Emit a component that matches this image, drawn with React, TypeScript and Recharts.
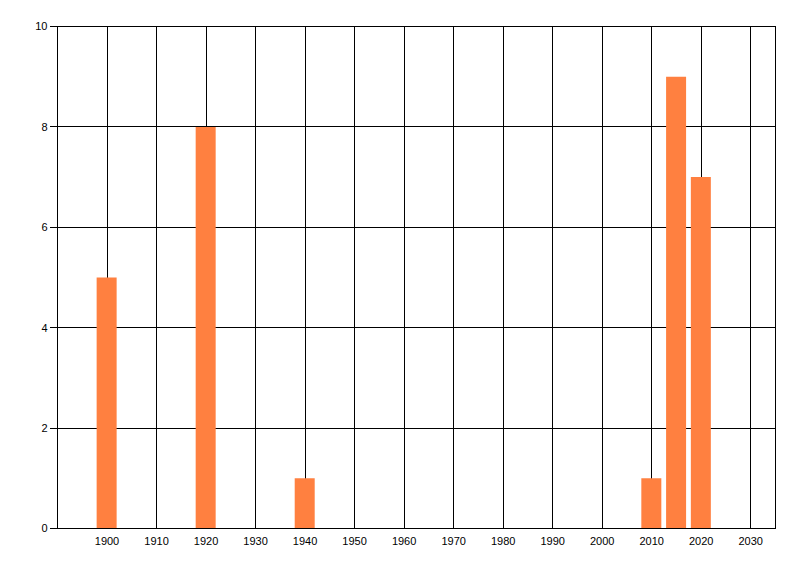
import React from 'react'
import { BarChart, Bar, XAxis, YAxis, CartesianGrid } from 'recharts'

const years = [1900, 1920, 1940, 2010, 2015, 2020]
const counts = [5, 8, 1, 1, 9, 7]
const xTicks = [1900, 1910, 1920, 1930, 1940, 1950, 1960, 1970, 1980, 1990, 2000, 2010, 2020, 2030]
const yTicks = [0, 2, 4, 6, 8, 10]

const data = years.map((year, i) => ({ year, count: counts[i] }))

const tickStyle = { fontSize: 11, fill: '#000', fontFamily: '"Liberation Sans", Arial, sans-serif' }

export default function App() {
  return (
    <div style={{ position: 'absolute', left: 0, top: 0, background: '#fff' }}>
      <style>{'svg line { shape-rendering: crispEdges; }'}</style>
      <BarChart
        width={800}
        height={576}
        data={data}
        margin={{ top: 26.5, right: 24.5, bottom: 0, left: 0 }}
      >
        <CartesianGrid stroke="#000" strokeOpacity={1} ticks={xTicks} />
        <XAxis
          dataKey="year"
          type="number"
          height={47.5}
          domain={[1890, 2035]}
          ticks={xTicks}
          interval={0}
          allowDataOverflow
          axisLine={{ stroke: '#000' }}
          tickLine={false}
          tickSize={0}
          tickMargin={9}
          tick={tickStyle}
        />
        <YAxis
          width={57.5}
          domain={[0, 10]}
          ticks={yTicks}
          interval={0}
          axisLine={{ stroke: '#000' }}
          tickLine={{ stroke: '#000' }}
          tickSize={8}
          tickMargin={2}
          tick={tickStyle}
        />
        <Bar dataKey="count" fill="#FF8040" barSize={20} isAnimationActive={false} />
      </BarChart>
    </div>
  )
}
